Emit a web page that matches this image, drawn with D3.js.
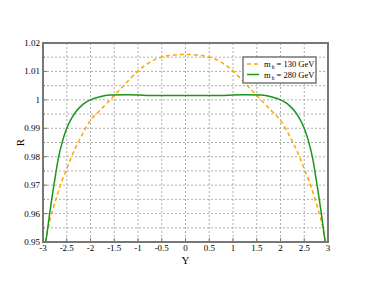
<!DOCTYPE html>
<html>
<head>
<meta charset="utf-8">
<script src="https://cdn.jsdelivr.net/npm/d3@7"></script>
<style>
  body { margin: 0; background: #fff; }
  svg { display: block; font-family: "Liberation Serif", "DejaVu Serif", serif; }
</style>
</head>
<body>
<div id="chart"></div>
<script>
// rapidity values and ratio R for the two Higgs masses
const yOrange = [-2.95, -2.85, -2.8, -2.7, -2.6, -2.5, -2.4, -2.2, -2.0, -1.8, -1.6, -1.4, -1.2, -1.0, -0.8, -0.6, -0.4, -0.2, 0,
  0.2, 0.4, 0.6, 0.8, 1.0, 1.2, 1.4, 1.6, 1.8, 2.0, 2.2, 2.4, 2.5, 2.6, 2.7, 2.8, 2.85, 2.95]
const rOrange = [0.950, 0.958, 0.961, 0.9665, 0.9715, 0.9757, 0.980, 0.987, 0.9928, 0.9963, 0.9998, 1.0033, 1.0068, 1.0102, 1.0127, 1.0145, 1.0154, 1.0158, 1.0160,
  1.0158, 1.0154, 1.0145, 1.0127, 1.0102, 1.0068, 1.0033, 0.9998, 0.9963, 0.9928, 0.987, 0.980, 0.9757, 0.9715, 0.9665, 0.961, 0.958, 0.950]

const yGreen = [-2.94, -2.86, -2.77, -2.67, -2.58, -2.5, -2.4, -2.3, -2.2, -2.1, -2.0, -1.8, -1.6, -1.2, -0.6, 0,
  0.6, 1.2, 1.6, 1.8, 2.0, 2.1, 2.2, 2.3, 2.4, 2.5, 2.58, 2.67, 2.77, 2.86, 2.94]
const rGreen = [0.950, 0.960, 0.970, 0.980, 0.986, 0.990, 0.9935, 0.996, 0.9978, 0.9991, 1.0000, 1.0011, 1.0017, 1.0018, 1.0015, 1.0015,
  1.0015, 1.0018, 1.0017, 1.0011, 1.0000, 0.9991, 0.9978, 0.996, 0.9935, 0.990, 0.986, 0.980, 0.970, 0.960, 0.950]

const xTicks = [-3, -2.5, -2, -1.5, -1, -0.5, 0, 0.5, 1, 1.5, 2, 2.5, 3]
const yTicks = [0.95, 0.96, 0.97, 0.98, 0.99, 1, 1.01, 1.02]
const yMinor = [0.955, 0.965, 0.975, 0.985, 0.995, 1.005, 1.015]
const seriesNames = ["130", "280"]

const width = 370
const height = 286
const plotLeft = 43, plotRight = 328, plotTop = 43, plotBottom = 242

const x = d3.scaleLinear().domain([-3, 3]).range([plotLeft, plotRight])
const y = d3.scaleLinear().domain([0.95, 1.02]).range([plotBottom, plotTop])

const svg = d3.select("#chart").append("svg")
  .attr("width", width)
  .attr("height", height)

svg.append("defs").append("clipPath").attr("id", "clip")
  .append("rect")
  .attr("x", plotLeft).attr("y", plotTop)
  .attr("width", plotRight - plotLeft).attr("height", plotBottom - plotTop)

// grid
const grid = svg.append("g")
  .attr("stroke", "#999")
  .attr("stroke-width", 0.8)
  .attr("stroke-dasharray", "2,2")

grid.append("g").selectAll("line")
  .data(xTicks.slice(1, -1))
  .join("line")
  .attr("x1", d => x(d)).attr("x2", d => x(d))
  .attr("y1", plotTop).attr("y2", plotBottom)

grid.append("g").selectAll("line")
  .data(yTicks.slice(1, -1).concat(yMinor))
  .join("line")
  .attr("x1", plotLeft).attr("x2", plotRight)
  .attr("y1", d => y(d)).attr("y2", d => y(d))

// curves
const line = d3.line().curve(d3.curveMonotoneX)

const plot = svg.append("g").attr("clip-path", "url(#clip)")

plot.append("path")
  .attr("fill", "none")
  .attr("stroke", "#ffa500")
  .attr("stroke-width", 1.5)
  .attr("stroke-dasharray", "4,3")
  .attr("d", line(yOrange.map((v, i) => [x(v), y(rOrange[i])])))

plot.append("path")
  .attr("fill", "none")
  .attr("stroke", "#1a961a")
  .attr("stroke-width", 1.5)
  .attr("d", line(yGreen.map((v, i) => [x(v), y(rGreen[i])])))

// frame and inner ticks
svg.append("rect")
  .attr("x", plotLeft).attr("y", plotTop)
  .attr("width", plotRight - plotLeft).attr("height", plotBottom - plotTop)
  .attr("fill", "none")
  .attr("stroke", "#777")
  .attr("stroke-width", 2)

const ticks = svg.append("g").attr("stroke", "#777").attr("stroke-width", 1)
ticks.append("g").selectAll("line")
  .data(xTicks)
  .join("line")
  .attr("x1", d => x(d)).attr("x2", d => x(d))
  .attr("y1", plotBottom).attr("y2", plotBottom - 4)
ticks.append("g").selectAll("line")
  .data(yTicks)
  .join("line")
  .attr("x1", plotLeft).attr("x2", plotLeft + 4)
  .attr("y1", d => y(d)).attr("y2", d => y(d))
ticks.append("g").selectAll("line")
  .data(yMinor)
  .join("line")
  .attr("x1", plotLeft).attr("x2", plotLeft + 2)
  .attr("y1", d => y(d)).attr("y2", d => y(d))

// tick labels
svg.append("g")
  .attr("font-size", 9)
  .attr("text-anchor", "middle")
  .selectAll("text")
  .data(xTicks)
  .join("text")
  .attr("x", d => x(d))
  .attr("y", plotBottom + 9)
  .text(d => d)

svg.append("g")
  .attr("font-size", 9)
  .attr("text-anchor", "end")
  .selectAll("text")
  .data(yTicks)
  .join("text")
  .attr("x", plotLeft - 3)
  .attr("y", d => y(d) + 3)
  .text(d => d === 1 ? "1" : d3.format(".2f")(d))

// axis titles
svg.append("text")
  .attr("x", (plotLeft + plotRight) / 2)
  .attr("y", plotBottom + 22)
  .attr("text-anchor", "middle")
  .attr("font-size", 11)
  .text("Y")

svg.append("text")
  .attr("transform", `translate(24,${(plotTop + plotBottom) / 2}) rotate(-90)`)
  .attr("text-anchor", "middle")
  .attr("font-size", 11)
  .text("R")

// legend
const legend = svg.append("g")
legend.append("rect")
  .attr("x", 243).attr("y", 57)
  .attr("width", 73).attr("height", 26)
  .attr("fill", "#fff")
  .attr("stroke", "#777")
  .attr("stroke-width", 1.5)

const legendStyles = [
  { color: "#ffa500", dash: "4,3" },
  { color: "#1a961a", dash: null }
]
seriesNames.forEach((name, i) => {
  const ly = 64 + i * 10.5
  legend.append("line")
    .attr("x1", 247).attr("x2", 259)
    .attr("y1", ly).attr("y2", ly)
    .attr("stroke", legendStyles[i].color)
    .attr("stroke-width", 1.5)
    .attr("stroke-dasharray", legendStyles[i].dash)
  const t = legend.append("text")
    .attr("x", 264).attr("y", ly + 3)
    .attr("font-size", 8.5)
  t.append("tspan").text("m")
  t.append("tspan").attr("font-size", 5.5).attr("dy", 2).attr("dx", 1).text("h")
  t.append("tspan").attr("dy", -2).text(` = ${name} GeV`)
})
</script>
</body>
</html>
